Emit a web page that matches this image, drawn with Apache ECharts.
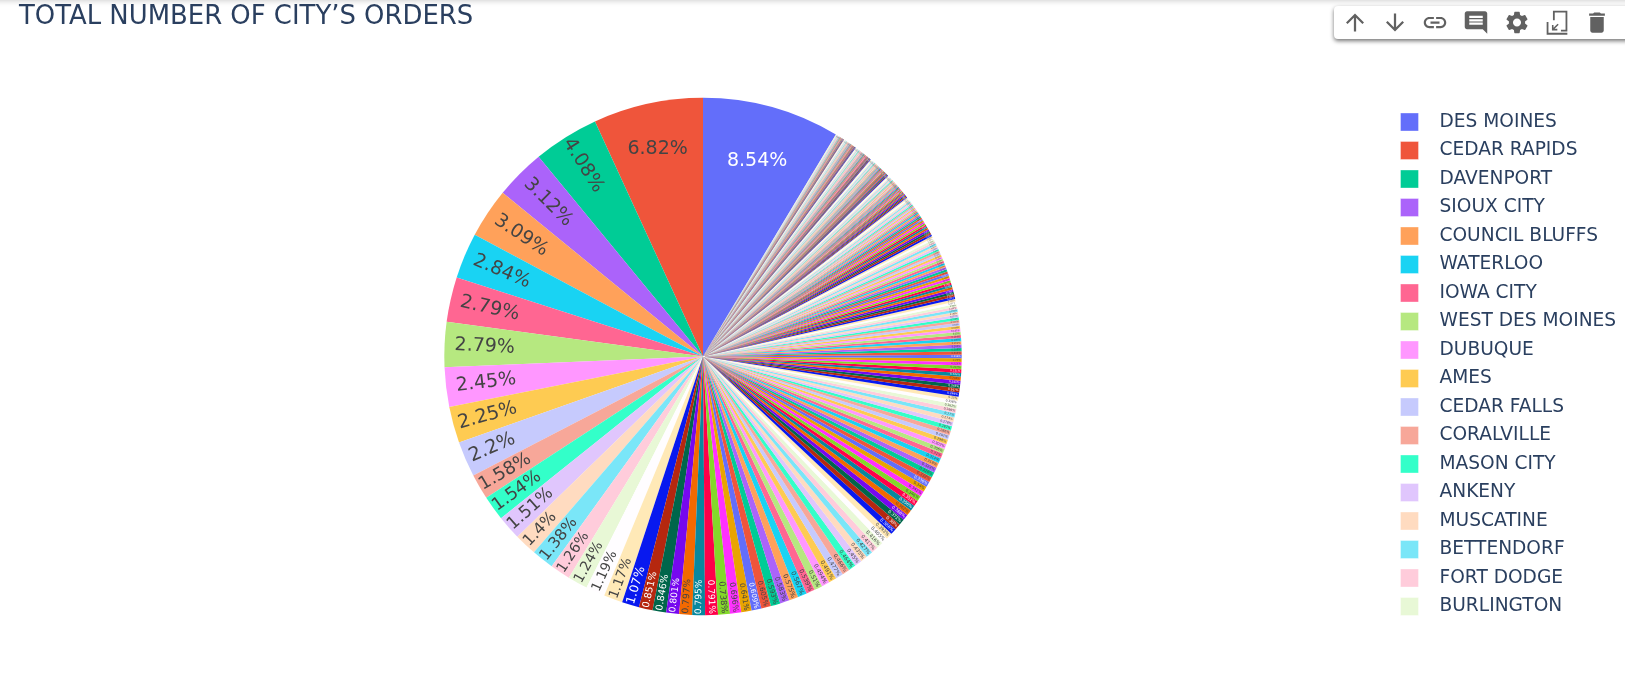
<!DOCTYPE html>
<html>
<head>
<meta charset="utf-8">
<style>html,body{margin:0;padding:0;background:#fff;overflow:hidden}#chart{width:1625px;height:677px}#icons{position:absolute;left:0;top:0;pointer-events:none}</style>
<script src="https://cdn.jsdelivr.net/npm/echarts@6/dist/echarts.min.js"></script>
</head>
<body>
<div id="chart"></div>
<svg id="icons" width="1625" height="60" xmlns="http://www.w3.org/2000/svg"></svg>
<script>
const chartTitle = 'TOTAL NUMBER OF CITY’S ORDERS';
const legendCities = ['DES MOINES','CEDAR RAPIDS','DAVENPORT','SIOUX CITY','COUNCIL BLUFFS','WATERLOO','IOWA CITY','WEST DES MOINES','DUBUQUE','AMES','CEDAR FALLS','CORALVILLE','MASON CITY','ANKENY','MUSCATINE','BETTENDORF','FORT DODGE','BURLINGTON'];

// Share of orders (%), read from the slice labels and estimated for the unlabelled rim slices.
const sharesLargest = [8.54,6.82,4.08,3.12,3.09,2.84,2.79,2.79,2.45,2.25,2.2,1.58,1.54,1.51,1.4,1.38,1.26,1.24,1.19,1.17];
const sharesMid = [1.07,0.851,0.846,0.801,0.797,0.795,0.791,0.738,0.696,0.641,
  0.609,0.605,0.593,0.583,0.575,0.567,0.539,0.51,0.494,0.491,
  0.477,0.466,0.464,0.45,0.435,0.427,0.417,0.416,0.405,0.393];
const sharesSmall = [0.386,0.38,0.372,0.368,0.362,0.356,0.352,0.346,0.342,0.34,
  0.336,0.332,0.328,0.322,0.318,0.314,0.31,0.306,0.302,0.298,
  0.292,0.286,0.282,0.278,0.274,0.27,0.266,0.262,0.258,0.25,
  0.249,0.247,0.245,0.241,0.238,0.234,0.231,0.227,0.223,0.22,
  0.216,0.212,0.208,0.205,0.201,0.198,0.194,0.19,0.187,0.184,
  0.18,0.177,0.174,0.171,0.168,0.165,0.162,0.16,0.157,0.155];
const sharesTiny = [0.153,0.152,0.149,0.149,0.147,0.146,0.146,0.144,0.143,0.142,
  0.142,0.14,0.14,0.139,0.137,0.137,0.135,0.135,0.134,0.133,
  0.131,0.131,0.13,0.128,0.128,0.127,0.125,0.125,0.124,0.123,
  0.121,0.118,0.116,0.113,0.112,0.11,0.107,0.106,0.104,0.103,
  0.101,0.098,0.097,0.095,0.094,0.091,0.09,0.088,0.087,0.085,
  0.083,0.082,0.08,0.079,0.077,0.076,0.074,0.073,0.072,0.07,
  0.069,0.068,0.068,0.066,0.066,0.065,0.064,0.063,0.063,0.062,
  0.061,0.061,0.06,0.059,0.059,0.058,0.058,0.057,0.056,0.056,
  0.056,0.056,0.055,0.055,0.054,0.054,0.054,0.054,0.053,0.053];
const sharesRim = [0.053,0.053,0.052,0.052,0.052,0.051,0.051,0.051,0.05,0.05,
  0.05,0.05,0.049,0.049,0.049,0.048,0.048,0.048,0.047,0.047,
  0.047,0.046,0.046,0.046,0.045,0.045,0.045,0.044,0.044,0.044,
  0.044,0.043,0.043,0.043,0.042,0.042,0.042,0.041,0.041,0.041,
  0.04,0.04,0.04,0.039,0.039,0.039,0.038,0.038,0.038,0.037,
  0.037,0.037,0.036,0.036,0.036,0.035,0.035,0.035,0.034,0.034,
  0.034,0.033,0.033,0.033,0.032,0.032,0.032,0.031,0.031,0.03,
  0.03,0.03,0.03,0.029,0.029,0.029,0.028,0.028,0.028,0.028,
  0.027,0.027,0.027,0.026,0.026,0.026,0.025,0.025,0.025,0.025,
  0.024,0.024,0.024,0.023,0.023,0.023,0.023,0.022,0.022,0.022,
  0.021,0.021,0.02,0.02,0.02,0.019,0.019,0.019,0.018,0.018,
  0.018,0.017,0.017,0.017,0.016,0.016,0.016,0.015,0.015,0.014];
const shares = [...sharesLargest,...sharesMid,...sharesSmall,...sharesTiny,...sharesRim];

const baseColors = ['#636EFA','#EF553B','#00CC96','#AB63FA','#FFA15A','#19D3F3','#FF6692','#B6E880','#FF97FF','#FECB52'];

function shiftLightness(hex, amount) {
  const n = parseInt(hex.slice(1),16);
  const r=(n>>16&255)/255, g=(n>>8&255)/255, b=(n&255)/255;
  const mx=Math.max(r,g,b), mn=Math.min(r,g,b), d=mx-mn;
  let l=(mx+mn)/2, s=d===0?0:(l>0.5?d/(2-mx-mn):d/(mx+mn)), h=0;
  if(d!==0){ h = mx===r?(g-b)/d+(g<b?6:0):mx===g?(b-r)/d+2:(r-g)/d+4; h/=6; }
  l=Math.min(1,Math.max(0,l+amount));
  const q=l<0.5?l*(1+s):l+s-l*s, p=2*l-q;
  const f=t=>{ t=(t+1)%1; return t<1/6?p+(q-p)*6*t:t<1/2?q:t<2/3?p+(q-p)*(2/3-t)*6:p; };
  const c=v=>Math.round(v*255).toString(16).padStart(2,'0');
  return '#'+c(f(h+1/3))+c(f(h))+c(f(h-1/3));
}
const palette = [...baseColors, ...baseColors.map(c=>shiftLightness(c,0.2)), ...baseColors.map(c=>shiftLightness(c,-0.2))];
function contrastText(hex){
  const n=parseInt(hex.slice(1),16);
  const bright=((n>>16&255)*299+(n>>8&255)*587+(n&255)*114)/1000;
  return bright<128?'#ffffff':'#444444';
}

const cx=703, cy=356.5, R=258.7;
const total=shares.reduce((a,b)=>a+b,0);
const startAngle=90-shares[0]/total*360;
const fontFor=v=>Math.min(19,v*11.4);
const textLen=(s,f)=>f*[...s].reduce((a,ch)=>a+(ch==='.'?0.318:ch==='%'?0.95:0.636),0);
const rimGap=v=>v<2?1:v<2.3?5:v<3.5?10:3;
const midAngles=[]; { let acc=startAngle; shares.forEach(v=>{const sw=v/total*360; midAngles.push(acc+sw/2); acc+=sw;}); }

const pieData=shares.map((v,i)=>{
  const color=palette[i%30], a=midAngles[i];
  const radial=Math.cos(a*Math.PI/180)>=0?a:a+180;
  return {
    name:legendCities[i]||('CITY '+(i+1)),
    value:v,
    itemStyle:{color},
    label:{fontSize:fontFor(v),color:contrastText(color),rotate:v>=5?0:radial}
  };
});

const icons=[
 {x:1355,d:'M4 12l1.41 1.41L11 7.83V20h2V7.83l5.58 5.59L20 12l-8-8-8 8z'},
 {x:1395,d:'M20 12l-1.41-1.41L13 16.17V4h-2v12.17l-5.58-5.59L4 12l8 8 8-8z'},
 {x:1435,d:'M3.9 12c0-1.71 1.39-3.1 3.1-3.1h4V7H7c-2.76 0-5 2.24-5 5s2.24 5 5 5h4v-1.9H7c-1.71 0-3.1-1.39-3.1-3.1zM8 13h8v-2H8v2zm9-6h-4v1.9h4c1.71 0 3.1 1.39 3.1 3.1s-1.39 3.1-3.1 3.1h-4V17h4c2.76 0 5-2.24 5-5s-2.24-5-5-5z'},
 {x:1476,d:'M21.99 4c0-1.1-.89-2-1.99-2H4c-1.1 0-2 .9-2 2v12c0 1.1.9 2 2 2h14l4 4-.01-18zM18 14H6v-2h12v2zm0-3H6V9h12v2zm0-3H6V6h12v2z'},
 {x:1517,d:'M19.14 12.94c.04-.3.06-.61.06-.94 0-.32-.02-.64-.07-.94l2.03-1.58c.18-.14.23-.41.12-.61l-1.92-3.32c-.12-.22-.37-.29-.59-.22l-2.39.96c-.5-.38-1.03-.7-1.62-.94l-.36-2.54c-.04-.24-.24-.41-.48-.41h-3.84c-.24 0-.43.17-.47.41l-.36 2.54c-.59.24-1.13.57-1.62.94l-2.39-.96c-.22-.08-.47 0-.59.22L2.74 8.87c-.12.21-.08.47.12.61l2.03 1.58c-.05.3-.09.63-.09.94s.02.64.07.94l-2.03 1.58c-.18.14-.23.41-.12.61l1.92 3.32c.12.22.37.29.59.22l2.39-.96c.5.38 1.03.7 1.62.94l.36 2.54c.05.24.24.41.48.41h3.84c.24 0 .44-.17.47-.41l.36-2.54c.59-.24 1.13-.56 1.62-.94l2.39.96c.22.08.47 0 .59-.22l1.92-3.32c.12-.22.07-.47-.12-.61l-2.01-1.58zM12 15.6c-1.98 0-3.6-1.62-3.6-3.6s1.62-3.6 3.6-3.6 3.6 1.62 3.6 3.6-1.62 3.6-3.6 3.6z'},
 {x:1557,d:'M8.4 1.5h12.8v18.6h-5.7v-1.6h4.1V3.1H10v6.8H8.4zM2.8 11.5h1.6v9.7h16.8v1.6H2.8zM12.5 13l-3.6 3.6v-2.4H7.5v4.8h4.8v-1.4H9.9l3.6-3.6z'},
 {x:1597,d:'M6 19c0 1.1.9 2 2 2h8c1.1 0 2-.9 2-2V7H6v12zM19 4h-3.5l-1-1h-5l-1 1H5v2h14V4z'}
];
const iconBox=27, iconScale=iconBox/24, iconY=22.5;
document.getElementById('icons').innerHTML=icons.map(ic=>`<path fill="#616161" transform="translate(${ic.x-iconBox/2},${iconY-iconBox/2}) scale(${iconScale})" d="${ic.d}"/>`).join('');

const chart=echarts.init(document.getElementById('chart'),null,{renderer:'canvas'});
chart.setOption({
  animation:false,
  backgroundColor:'#ffffff',
  title:{text:chartTitle,left:14,top:-1,textStyle:{fontFamily:'DejaVu Sans',fontSize:25.9,fontWeight:'normal',color:'#2a3f5f'}},
  tooltip:{show:false},
  legend:{
    type:'plain',orient:'vertical',left:1395,top:107,
    data:legendCities,icon:'rect',itemWidth:18,itemHeight:18,itemGap:8.5,selectedMode:false,
    itemStyle:{borderWidth:1,borderColor:'rgba(255,255,255,0.35)'},
    textStyle:{fontFamily:'DejaVu Sans',fontSize:18.6,lineHeight:18,color:'#2a3f5f',padding:[2,0,0,16]}
  },
  graphic:[
    {type:'rect',z:5,shape:{x:-10,y:-6,width:1650,height:6},style:{fill:'#fff',shadowBlur:6,shadowColor:'rgba(0,0,0,0.25)'}},
    {type:'rect',z:5,shape:{x:1334,y:6,width:310,height:33,r:4},style:{fill:'#fff',shadowBlur:4,shadowOffsetY:2,shadowColor:'rgba(0,0,0,0.55)'}}
  ],
  series:[{
    type:'pie',
    center:[cx,cy],
    radius:[0,R],
    startAngle,
    clockwise:false,
    avoidLabelOverlap:false,
    minShowLabelAngle:0,
    silent:true,
    data:pieData,
    itemStyle:{borderWidth:0},
    labelLine:{show:false},
    label:{show:true,position:'inside',fontFamily:'DejaVu Sans',formatter:p=>p.value+'%'},
    labelLayout:p=>{
      const v=shares[p.dataIndex], f=fontFor(v), L=textLen(v+'%',f);
      const rt=v>=8?0.785*R:v>=5?0.82*R:R-L/2-rimGap(v);
      const a=midAngles[p.dataIndex]*Math.PI/180;
      return {x:cx+rt*Math.cos(a),y:cy-rt*Math.sin(a)};
    }
  }]
});
</script>
</body>
</html>
